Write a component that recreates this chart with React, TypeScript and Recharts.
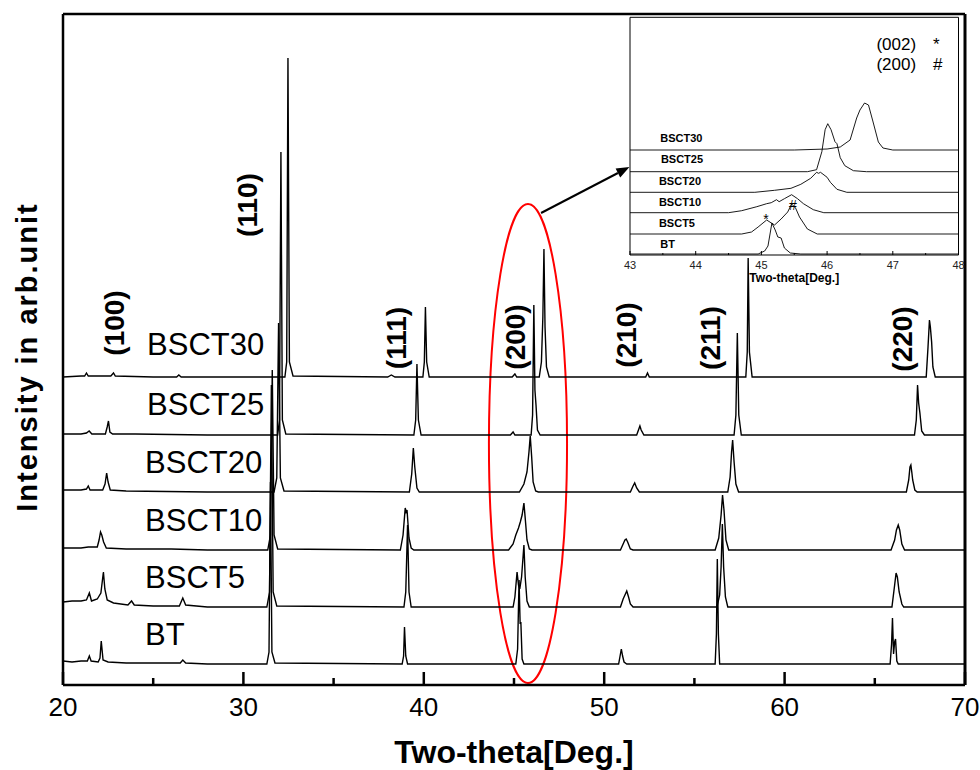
import React from "react";
import {
  ComposedChart,
  LineChart,
  Line,
  XAxis,
  YAxis,
  ReferenceLine,
  ReferenceArea,
  ReferenceDot,
  CartesianGrid,
} from "recharts";

const FONT = "'Liberation Sans', Arial, Helvetica, sans-serif";

type Pt = [number, number];

// main patterns: 2θ (deg) vs intensity above the pattern's own baseline (arb. units)
const BT: Pt[] = [
  [20, 3], [20.5, 2], [21, 3], [21.35, 3], [21.46, 8], [21.56, 3], [21.95, 2], [22.05, 6], [22.12, 23], [22.22, 4],
  [22.5, 2], [23.5, 1], [25, 1], [26.5, 1], [26.64, 4], [26.8, 1], [28, 0], [31.3, 0], [31.42, 12], [31.5, 182],
  [31.58, 12], [31.75, 1], [38.8, 0], [38.88, 8], [38.93, 37], [39.0, 8], [39.1, 0], [45.1, 0], [45.2, 15], [45.28, 84],
  [45.34, 40], [45.38, 42], [45.45, 5], [45.55, 0], [50.8, 0], [50.9, 10], [50.95, 15], [51.02, 8], [51.1, 2], [51.25, 0],
  [56.15, 0], [56.22, 30], [56.27, 105], [56.33, 30], [56.4, 0], [65.85, 0], [65.93, 20], [65.98, 46], [66.04, 10],
  [66.1, 22], [66.15, 25], [66.22, 3], [66.3, 0], [70, 0],
];
const BSCT5: Pt[] = [
  [20, 5], [20.5, 6], [21, 6], [21.3, 7], [21.46, 14], [21.58, 6], [21.9, 8], [22.1, 14], [22.24, 35], [22.32, 18],
  [22.45, 7], [22.8, 4], [23.6, 2], [23.8, 6], [23.95, 2], [25, 1], [26.45, 1], [26.64, 9], [26.8, 2], [28, 0],
  [31.3, 0], [31.45, 15], [31.55, 222], [31.65, 15], [31.85, 1], [38.9, 0], [39.0, 15], [39.1, 82], [39.18, 15], [39.3, 0],
  [44.95, 0], [45.05, 10], [45.17, 35], [45.25, 22], [45.32, 18], [45.42, 30], [45.55, 62], [45.62, 30], [45.72, 6],
  [45.85, 0], [50.9, 0], [51.05, 8], [51.15, 12], [51.25, 16], [51.35, 10], [51.45, 3], [51.6, 0], [56.25, 0],
  [56.4, 12], [56.48, 40], [56.55, 83], [56.62, 40], [56.72, 10], [56.85, 0], [65.95, 0], [66.1, 22], [66.18, 34],
  [66.25, 30], [66.35, 15], [66.5, 3], [66.6, 0], [70, 0],
];
const BSCT10: Pt[] = [
  [20, 2], [21, 2], [21.4, 3], [21.9, 3], [22.0, 10], [22.08, 18], [22.15, 15], [22.25, 8], [22.4, 2], [23.5, 1],
  [26, 1], [28, 0], [31.35, 0], [31.5, 15], [31.6, 180], [31.7, 15], [31.9, 1], [38.7, 0], [38.85, 15], [38.97, 42],
  [39.02, 38], [39.07, 40], [39.18, 12], [39.3, 2], [39.45, 0], [44.7, 0], [44.95, 6], [45.1, 15], [45.25, 22],
  [45.35, 28], [45.45, 35], [45.55, 47], [45.63, 30], [45.72, 10], [45.85, 1], [46, 0], [50.9, 0], [51.05, 6],
  [51.15, 10], [51.22, 11], [51.3, 8], [51.45, 1], [51.6, 0], [56.15, 0], [56.35, 12], [56.48, 35], [56.56, 55],
  [56.64, 40], [56.75, 10], [56.9, 0], [65.9, 0], [66.1, 10], [66.2, 20], [66.3, 25], [66.38, 20], [66.5, 6],
  [66.65, 0], [70, 0],
];
const BSCT20: Pt[] = [
  [20, 2], [21, 2], [21.3, 3], [21.4, 6], [21.5, 2], [22.2, 2], [22.33, 8], [22.42, 19], [22.5, 10], [22.62, 2],
  [23.5, 1], [28, 0], [31.7, 0], [31.85, 14], [31.95, 169], [32.05, 14], [32.25, 1], [39.2, 0], [39.33, 18],
  [39.42, 44], [39.5, 25], [39.62, 4], [39.75, 0], [45.3, 0], [45.55, 8], [45.72, 20], [45.83, 40], [45.9, 56],
  [45.98, 35], [46.06, 10], [46.2, 1], [46.35, 0], [51.45, 0], [51.6, 6], [51.69, 9], [51.8, 4], [51.95, 0],
  [56.85, 0], [56.98, 15], [57.06, 40], [57.12, 52], [57.2, 30], [57.3, 8], [57.45, 0], [66.75, 0], [66.88, 12],
  [66.95, 25], [67.0, 27], [67.05, 20], [67.1, 12], [67.22, 2], [67.35, 0], [70, 0],
];
const BSCT25: Pt[] = [
  [20, 1], [21, 1], [21.3, 2], [21.45, 4], [21.6, 1], [22.35, 1], [22.45, 8], [22.52, 14], [22.6, 3], [22.75, 1],
  [24, 1], [28, 0], [31.9, 0], [32.0, 15], [32.08, 283], [32.16, 15], [32.35, 1], [39.45, 0], [39.55, 15],
  [39.62, 71], [39.7, 15], [39.85, 0], [44.8, 0], [44.95, 3], [45.05, 0], [45.95, 0], [46.03, 20], [46.1, 130],
  [46.16, 45], [46.22, 30], [46.3, 5], [46.45, 0], [51.8, 0], [51.92, 6], [51.98, 9], [52.05, 5], [52.2, 0],
  [57.2, 0], [57.3, 20], [57.38, 102], [57.46, 20], [57.6, 0], [67.2, 0], [67.3, 15], [67.37, 50], [67.43, 32],
  [67.5, 22], [67.6, 4], [67.75, 0], [70, 0],
];
const BSCT30: Pt[] = [
  [20, 0], [21, 1], [21.2, 1], [21.3, 4], [21.4, 1], [22.65, 1], [22.8, 4], [22.9, 1], [25, 0], [26.3, 0],
  [26.42, 2], [26.55, 0], [32.3, 0], [32.4, 15], [32.47, 319], [32.55, 15], [32.75, 1], [38.0, 0], [38.2, 2],
  [38.4, 0], [39.95, 0], [40.03, 15], [40.09, 70], [40.16, 15], [40.3, 0], [44.9, 0], [45.05, 3], [45.15, 0],
  [46.4, 0], [46.52, 15], [46.6, 60], [46.66, 128], [46.72, 50], [46.8, 10], [46.95, 0], [52.3, 0], [52.4, 4],
  [52.5, 0], [57.85, 0], [57.93, 25], [57.98, 119], [58.05, 25], [58.2, 0], [67.85, 0], [67.95, 30], [68.03, 57],
  [68.08, 50], [68.15, 35], [68.22, 10], [68.35, 0], [70, 0],
];

const SAMPLES = ["BT", "BSCT5", "BSCT10", "BSCT20", "BSCT25", "BSCT30"];
const MAIN_PATTERNS = [BT, BSCT5, BSCT10, BSCT20, BSCT25, BSCT30];
const MAIN_OFFSETS = [21, 78, 135, 193, 250, 308];
const MAIN_LABEL_X = [24.55, 24.55, 24.55, 24.55, 24.66, 24.66];
const MAIN_LABEL_Y = [40, 97, 154, 212, 270, 330];

const PLANES = ["(100)", "(110)", "(111)", "(200)", "(210)", "(211)", "(220)"];
const PLANE_X = [22.88, 30.25, 38.46, 45.11, 51.26, 55.92, 66.51];
const PLANE_Y = [362, 480, 347, 348, 350, 347, 346];

const MAIN_TICKS = [20, 25, 30, 35, 40, 45, 50, 55, 60, 65, 70];

// inset: zoom of the (002)/(200) region
const IN_BT: Pt[] = [
  [43, 0], [44.95, 0], [45.05, 3], [45.1, 8], [45.16, 31], [45.21, 24], [45.25, 17], [45.3, 16], [45.35, 6],
  [45.44, 1], [45.6, 0], [48, 0],
];
const IN_BSCT5: Pt[] = [
  [43, 0], [44.7, 0], [44.85, 2], [44.95, 7], [45.08, 14], [45.2, 9], [45.3, 15], [45.4, 22], [45.46, 30],
  [45.52, 26], [45.58, 17], [45.7, 5], [45.85, 0], [48, 0],
];
const IN_BSCT10: Pt[] = [
  [43, 0], [44.5, 0], [44.7, 2], [44.93, 6], [45.08, 9], [45.15, 10], [45.23, 13], [45.27, 11], [45.35, 14],
  [45.46, 18], [45.55, 14], [45.64, 9], [45.79, 3], [45.95, 0], [48, 0],
];
const IN_BSCT20: Pt[] = [
  [43, 0], [44.9, 0], [45.2, 2], [45.45, 4], [45.6, 8], [45.75, 14], [45.84, 20], [45.87, 19], [45.9, 20],
  [46.0, 15], [46.05, 10], [46.15, 3], [46.3, 0], [48, 0],
];
const IN_BSCT25: Pt[] = [
  [43, 0], [45.7, 0], [45.84, 2], [45.92, 20], [45.97, 42], [46.01, 48], [46.06, 42], [46.12, 30], [46.15, 28],
  [46.2, 14], [46.27, 6], [46.4, 1], [46.6, 0], [48, 0],
];
const IN_BSCT30: Pt[] = [
  [43, 0], [45.5, 0], [46.0, 1], [46.2, 3], [46.35, 10], [46.45, 32], [46.5, 40], [46.57, 47], [46.63, 45],
  [46.7, 28], [46.78, 8], [46.85, 2], [47, 0], [48, 0],
];
const INSET_PATTERNS = [IN_BT, IN_BSCT5, IN_BSCT10, IN_BSCT20, IN_BSCT25, IN_BSCT30];
const INSET_OFFSETS = [1, 21, 42.3, 62.7, 83.3, 105];
const INSET_LABEL_X = [43.46, 43.44, 43.44, 43.44, 43.47, 43.46];
const INSET_LABEL_Y = [6.7, 28.3, 49.3, 70, 92, 113.3];
const INSET_TICKS = [43, 43.5, 44, 44.5, 45, 45.5, 46, 46.5, 47, 47.5, 48];

const toRows = (pts: Pt[], off: number) => pts.map(([x, y]) => ({ x, y: y + off }));

const MainTick = (p: any) => {
  const v = p.payload.value;
  const major = v % 10 === 0;
  return (
    <g>
      <line x1={p.x} x2={p.x} y1={p.y} y2={p.y - (major ? 13 : 7)} stroke="#000" strokeWidth={2.5} />
      {major && (
        <text x={p.x} y={p.y + 31} textAnchor="middle" fontSize={26} fontFamily={FONT} fill="#000">
          {v}
        </text>
      )}
    </g>
  );
};

const InsetTick = (p: any) => {
  const v = p.payload.value;
  const major = Number.isInteger(v);
  return (
    <g>
      <line x1={p.x} x2={p.x} y1={p.y} y2={p.y - (major ? 4 : 2)} stroke="#000" strokeWidth={1} />
      {major && (
        <text x={p.x} y={p.y + 14} textAnchor="middle" fontSize={11} fontFamily={FONT} fill="#222">
          {v}
        </text>
      )}
    </g>
  );
};

const textShape = (label: string, size: number, bold = false, anchor = "start") => (p: any) => (
  <text
    x={p.cx}
    y={p.cy}
    textAnchor={anchor}
    fontSize={size}
    fontWeight={bold ? "bold" : "normal"}
    fontFamily={FONT}
    fill="#000"
  >
    {label}
  </text>
);

const planeShape = (label: string) => (p: any) => (
  <text
    x={p.cx}
    y={p.cy}
    transform={`rotate(-90 ${p.cx} ${p.cy})`}
    textAnchor="middle"
    dominantBaseline="central"
    fontSize={28}
    fontWeight="bold"
    fontFamily={FONT}
    fill="#000"
  >
    {label}
  </text>
);

const arrowShape = (p: any) => {
  const { x1, y1, x2, y2 } = p;
  const a = Math.atan2(y2 - y1, x2 - x1);
  const L = 13;
  const W = 5;
  const bx = x2 - L * Math.cos(a);
  const by = y2 - L * Math.sin(a);
  const pts = [
    `${x2},${y2}`,
    `${bx + W * Math.sin(a)},${by - W * Math.cos(a)}`,
    `${bx - W * Math.sin(a)},${by + W * Math.cos(a)}`,
  ].join(" ");
  return (
    <g>
      <line x1={x1} y1={y1} x2={bx} y2={by} stroke="#000" strokeWidth={2} />
      <polygon points={pts} fill="#000" />
    </g>
  );
};

const ellipseShape = (p: any) => (
  <ellipse
    cx={p.x + p.width / 2}
    cy={p.y + p.height / 2}
    rx={p.width / 2}
    ry={p.height / 2}
    fill="none"
    stroke="#ff0000"
    strokeWidth={2}
  />
);

export default function App() {
  return (
    <div style={{ position: "absolute", left: 0, top: 0, width: 980, height: 770, background: "#fff" }}>
      <ComposedChart width={980} height={770} margin={{ top: 14, right: 15, bottom: 0, left: 62 }}>
        <XAxis
          type="number"
          dataKey="x"
          domain={[20, 70]}
          ticks={MAIN_TICKS}
          interval={0}
          allowDataOverflow
          height={85}
          tickSize={0}
          tickMargin={0}
          tickLine={false}
          axisLine={{ stroke: "#000", strokeWidth: 2.5 }}
          tick={MainTick}
          label={(props: any) => {
            const vb = props.viewBox;
            return (
              <text
                x={vb.x + vb.width / 2}
                y={vb.y + 78}
                textAnchor="middle"
                fontSize={32}
                fontWeight="bold"
                fontFamily={FONT}
                fill="#000"
              >
                Two-theta[Deg.]
              </text>
            );
          }}
        />
        <YAxis
          type="number"
          domain={[0, 671]}
          allowDataOverflow
          width={1}
          tick={false}
          tickLine={false}
          axisLine={false}
        />
        <ReferenceLine x={20} stroke="#000" strokeWidth={2.5} ifOverflow="visible" />
        <ReferenceLine y={671} stroke="#000" strokeWidth={2.5} ifOverflow="visible" />
        <ReferenceLine x={70} stroke="#000" strokeWidth={3} ifOverflow="visible" />
        {MAIN_PATTERNS.map((pts, i) => (
          <Line
            key={SAMPLES[i]}
            data={toRows(pts, MAIN_OFFSETS[i])}
            dataKey="y"
            type="linear"
            stroke="#000"
            strokeWidth={1.4}
            dot={false}
            activeDot={false}
            isAnimationActive={false}
          />
        ))}
        {SAMPLES.map((s, i) => (
          <ReferenceDot
            key={`lab-${s}`}
            x={MAIN_LABEL_X[i]}
            y={MAIN_LABEL_Y[i]}
            r={0}
            shape={textShape(s, 31)}
          />
        ))}
        {PLANES.map((s, i) => (
          <ReferenceDot key={`pl-${s}`} x={PLANE_X[i]} y={PLANE_Y[i]} r={0} shape={planeShape(s)} />
        ))}
        <ReferenceDot
          x={18}
          y={328}
          r={0}
          ifOverflow="visible"
          shape={(p: any) => (
            <text
              x={p.cx}
              y={p.cy}
              transform={`rotate(-90 ${p.cx} ${p.cy})`}
              textAnchor="middle"
              dominantBaseline="central"
              fontSize={29}
              letterSpacing={2}
              fontWeight="bold"
              fontFamily={FONT}
              fill="#000"
            >
              Intensity in arb.unit
            </text>
          )}
        />
        <ReferenceArea x1={43.61} x2={47.94} y1={2} y2={481} shape={ellipseShape} />
        <ReferenceLine
          segment={[
            { x: 46.5, y: 472 },
            { x: 51.4, y: 518 },
          ]}
          shape={arrowShape}
        />
      </ComposedChart>

      <div style={{ position: "absolute", left: 620, top: 10, width: 350, height: 280 }}>
        <LineChart width={350} height={280} margin={{ top: 7.3, right: 11.5, bottom: 0, left: 9 }}>
          <CartesianGrid fill="#fff" horizontal={false} vertical={false} />
          <XAxis
            type="number"
            dataKey="x"
            domain={[43, 48]}
            ticks={INSET_TICKS}
            interval={0}
            allowDataOverflow
            height={35}
            tickSize={0}
            tickMargin={0}
            tickLine={false}
            axisLine={{ stroke: "#000", strokeWidth: 1.2 }}
            tick={InsetTick}
            label={(props: any) => {
              const vb = props.viewBox;
              return (
                <text
                  x={vb.x + vb.width / 2}
                  y={vb.y + 27}
                  textAnchor="middle"
                  fontSize={12}
                  fontWeight="bold"
                  fontFamily={FONT}
                  fill="#000"
                >
                  Two-theta[Deg.]
                </text>
              );
            }}
          />
          <YAxis
            type="number"
            domain={[0, 237.7]}
            allowDataOverflow
            width={1}
            tick={false}
            tickLine={false}
            axisLine={false}
          />
          <ReferenceLine x={43} stroke="#000" strokeWidth={1} ifOverflow="visible" />
          <ReferenceLine y={237.7} stroke="#000" strokeWidth={1} ifOverflow="visible" />
          <ReferenceLine x={48} stroke="#000" strokeWidth={1} ifOverflow="visible" />
          {INSET_PATTERNS.map((pts, i) => (
            <Line
              key={`in-${SAMPLES[i]}`}
              data={toRows(pts, INSET_OFFSETS[i])}
              dataKey="y"
              type="linear"
              stroke="#000"
              strokeWidth={0.9}
              dot={false}
              activeDot={false}
              isAnimationActive={false}
            />
          ))}
          {SAMPLES.map((s, i) => (
            <ReferenceDot
              key={`inlab-${s}`}
              x={INSET_LABEL_X[i]}
              y={INSET_LABEL_Y[i]}
              r={0}
              shape={textShape(s, 11, true)}
            />
          ))}
          <ReferenceDot x={45.07} y={31} r={0} shape={textShape("*", 14, false, "middle")} />
          <ReferenceDot x={45.48} y={45} r={0} shape={textShape("#", 14, false, "middle")} />
          <ReferenceDot x={46.75} y={205} r={0} shape={textShape("(002)", 17)} />
          <ReferenceDot x={47.61} y={205} r={0} shape={textShape("*", 17)} />
          <ReferenceDot x={46.75} y={185} r={0} shape={textShape("(200)", 17)} />
          <ReferenceDot x={47.61} y={185} r={0} shape={textShape("#", 17)} />
        </LineChart>
      </div>
    </div>
  );
}
